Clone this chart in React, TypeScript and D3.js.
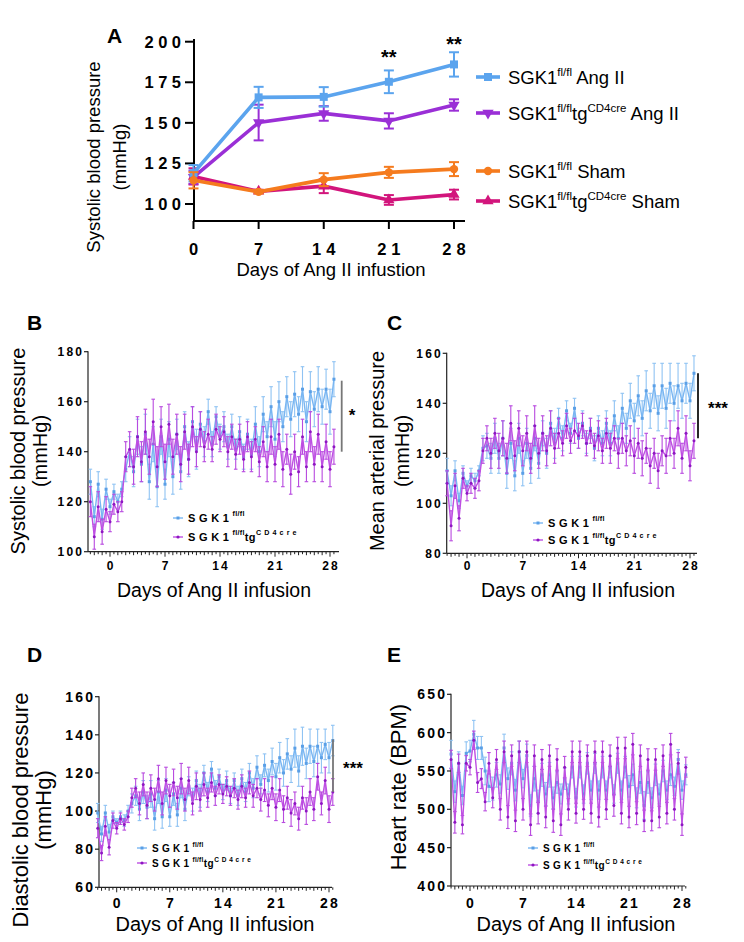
import React from "react";
import * as d3 from "d3";

const FONT = "'Liberation Sans', Arial, Helvetica, sans-serif";

// ---------------- Panel A data ----------------
const daysA = [0, 7, 14, 21, 28];
const aWtAng = [119, 165.7, 166, 175.3, 186];
const aWtAngErr = [5, 6.5, 6, 7, 7.5];
const aTgAng = [116.5, 150.2, 155.8, 151.2, 161];
const aTgAngErr = [4, 11, 4.5, 4.7, 3.5];
const aWtSham = [114.6, 107.5, 115, 119.5, 121.5];
const aWtShamErr = [5, 1, 4, 3.4, 4.3];
const aTgSham = [117, 107.8, 111, 102.5, 105.8];
const aTgShamErr = [5, 1, 4.3, 3, 3];
const aYTicks = [100, 125, 150, 175, 200];
const aStars = [
  { day: 21, text: "**", dy: 64 },
  { day: 28, text: "**", dy: 51 },
];

// ---------------- Panels B-E data (half-day points, day -2.5 .. 28.5) ----------------
const days = d3.range(-2.5, 28.51, 0.5);
const majorDays = [0, 7, 14, 21, 28];

// B: systolic
const bWt = [
  128, 114, 127, 113, 125, 118, 124, 120, 125,
  133, 140, 132, 146, 135, 147, 128, 143, 126, 146, 127, 145,
  130, 147, 132, 150, 137, 152, 141, 151, 144, 156, 143, 154,
  146, 150, 142, 150, 141, 148, 138, 147, 139, 151, 140, 155,
  146, 158, 145, 160, 150, 162, 153, 163, 155, 165, 152, 164,
  157, 165, 158, 165, 156, 169,
];
const bWtErr = [
  5, 4, 5, 4, 4, 3, 3, 3, 3,
  5, 6, 6, 7, 7, 8, 7, 7, 8, 7, 6, 7,
  7, 6, 7, 6, 7, 6, 8, 5, 6, 5, 5, 4,
  5, 6, 5, 5, 4, 6, 5, 6, 6, 7, 6, 7,
  6, 8, 7, 8, 6, 8, 7, 9, 7, 9, 8, 8,
  7, 9, 7, 8, 9, 7,
];
const bTg = [
  120, 106, 118, 108, 117, 112, 119, 116, 120,
  138, 141, 134, 146, 136, 148, 138, 152, 134, 150, 136, 151,
  138, 147, 135, 148, 137, 150, 140, 149, 142, 147, 141, 149,
  145, 148, 140, 146, 139, 145, 137, 146, 138, 145, 136, 144,
  134, 146, 135, 147, 133, 141, 131, 140, 132, 146, 134, 148,
  135, 147, 134, 144, 133, 142,
];
const bTgErr = [
  6, 5, 6, 5, 5, 4, 4, 4, 4,
  6, 7, 7, 8, 8, 9, 7, 9, 8, 8, 7, 8,
  7, 8, 7, 7, 6, 8, 6, 7, 6, 6, 5, 6,
  5, 6, 6, 5, 6, 6, 5, 6, 6, 5, 6, 6,
  6, 7, 7, 6, 7, 6, 8, 7, 6, 7, 6, 8,
  7, 8, 6, 7, 7, 7,
];

// C: mean arterial pressure
const cWt = [
  113, 103, 113, 101, 112, 107, 111, 109, 113,
  122, 123, 118, 126, 118, 126, 112, 124, 111, 126, 112, 124,
  114, 126, 116, 128, 120, 132, 124, 134, 126, 137, 128, 138,
  126, 132, 124, 130, 122, 130, 124, 132, 124, 135, 126, 138,
  130, 141, 133, 143, 134, 145, 137, 147, 136, 147, 138, 148,
  140, 147, 141, 148, 141, 152,
];
const cWtErr = [
  5, 4, 4, 3, 3, 2, 3, 3, 2,
  5, 5, 6, 6, 6, 7, 6, 6, 6, 6, 5, 6,
  6, 5, 6, 5, 6, 5, 6, 4, 5, 4, 4, 4,
  4, 5, 4, 4, 5, 5, 5, 5, 5, 6, 5, 6,
  6, 7, 7, 8, 7, 8, 7, 9, 7, 9, 8, 8,
  7, 9, 7, 8, 7, 7,
];
const cTg = [
  108, 91, 107, 94, 110, 104, 108, 106, 109,
  121, 126, 120, 128, 121, 126, 118, 132, 119, 130, 121, 128,
  118, 131, 120, 128, 121, 130, 122, 128, 124, 131, 125, 129,
  127, 131, 124, 129, 123, 127, 121, 128, 122, 126, 120, 126,
  121, 125, 119, 124, 118, 122, 115, 120, 113, 121, 119, 126,
  120, 130, 118, 128, 115, 125,
];
const cTgErr = [
  5, 6, 5, 5, 4, 3, 4, 4, 4,
  5, 5, 6, 6, 7, 7, 6, 7, 6, 7, 6, 7,
  6, 8, 6, 7, 6, 7, 6, 6, 5, 5, 5, 5,
  5, 5, 5, 5, 5, 6, 5, 6, 6, 5, 6, 6,
  6, 6, 7, 6, 7, 6, 7, 6, 7, 6, 7, 7,
  6, 7, 6, 7, 6, 7,
];

// D: diastolic
const dWt = [
  99, 88, 99, 89, 97, 94, 97, 95, 100,
  104, 108, 101, 110, 102, 109, 96, 110, 97, 111, 97, 109,
  98, 112, 101, 113, 106, 116, 108, 120, 110, 122, 112, 118,
  110, 116, 108, 116, 108, 117, 110, 120, 112, 123, 114, 124,
  116, 126, 118, 128, 120, 130, 122, 133, 121, 134, 125, 134,
  126, 134, 128, 135, 128, 137,
];
const dWtErr = [
  5, 4, 4, 4, 3, 2, 3, 3, 3,
  5, 5, 6, 6, 6, 7, 6, 6, 6, 6, 5, 6,
  6, 5, 6, 5, 6, 5, 6, 4, 5, 4, 4, 4,
  4, 5, 4, 4, 5, 5, 5, 5, 5, 6, 5, 6,
  6, 7, 7, 8, 7, 8, 7, 10, 8, 10, 8, 9,
  8, 9, 8, 8, 8, 8,
];
const dTg = [
  91, 78, 92, 81, 95, 91, 96, 93, 97,
  107, 112, 104, 114, 103, 112, 106, 117, 104, 116, 108, 115,
  107, 117, 106, 116, 104, 113, 106, 114, 107, 115, 108, 114,
  109, 113, 108, 112, 106, 113, 107, 115, 108, 112, 106, 111,
  103, 112, 102, 111, 101, 107, 99, 104, 96, 107, 100, 110,
  101, 118, 104, 116, 101, 110,
];
const dTgErr = [
  5, 4, 5, 4, 4, 3, 3, 3, 3,
  5, 5, 6, 6, 7, 7, 6, 7, 6, 7, 6, 7,
  6, 8, 6, 7, 6, 7, 6, 6, 5, 5, 5, 5,
  5, 5, 5, 5, 5, 6, 5, 6, 6, 5, 6, 6,
  6, 6, 7, 6, 7, 6, 7, 6, 6, 6, 7, 7,
  6, 7, 6, 7, 7, 7,
];

// E: heart rate
const eWt = [
  572, 523, 560, 518, 573, 576, 598, 580, 580,
  550, 530, 527, 545, 533, 580, 540, 560, 525, 575, 540, 570,
  505, 540, 510, 545, 520, 545, 515, 535, 520, 540, 520, 555,
  515, 555, 520, 560, 525, 560, 525, 555, 525, 555, 520, 560,
  525, 555, 530, 545, 515, 535, 505, 535, 515, 545, 520, 550,
  525, 545, 530, 565, 525, 545,
];
const eWtErr = [
  18, 14, 15, 12, 15, 14, 18, 15, 15,
  18, 20, 15, 16, 12, 18, 14, 15, 14, 14, 12, 15,
  14, 16, 15, 15, 15, 16, 14, 14, 13, 14, 13, 14,
  12, 14, 12, 14, 12, 13, 12, 14, 12, 14, 12, 13,
  12, 14, 14, 14, 13, 14, 18, 14, 13, 14, 13, 14,
  12, 14, 12, 13, 12, 13,
];
const eTg = [
  565, 483, 560, 480, 560, 555, 590, 535, 540,
  510, 560, 515, 565, 500, 575, 490, 570, 485, 575, 500, 575,
  480, 570, 495, 565, 490, 570, 485, 565, 480, 555, 500, 575,
  495, 575, 500, 570, 495, 575, 490, 575, 500, 570, 505, 580,
  495, 580, 490, 585, 495, 570, 485, 565, 485, 565, 490, 570,
  495, 585, 500, 560, 480, 555,
];
const eTgErr = [
  12, 14, 12, 12, 10, 10, 12, 13, 13,
  12, 14, 13, 13, 14, 14, 15, 14, 14, 14, 14, 14,
  14, 14, 14, 13, 14, 14, 15, 14, 14, 14, 14, 14,
  13, 14, 13, 14, 13, 14, 13, 14, 13, 14, 14, 14,
  14, 14, 14, 14, 15, 14, 14, 14, 13, 14, 14, 14,
  14, 14, 14, 14, 14, 13,
];

// ---------------- colours ----------------
const A_BLUE = "#5BA4EE";
const A_PURPLE = "#9A2FD6";
const A_ORANGE = "#F57B1E";
const A_MAGENTA = "#D2157C";

const WT_LINE = "#79B6F2";
const WT_ERR = "#8FC3F3";
const WT_PT = "#5A9FE6";
const TG_LINE = "#BE4FE3";
const TG_ERR = "#B84ADF";
const TG_PT = "#8E16C2";

// ---------------- Panel A ----------------
function PanelA() {
  const x = d3.scaleLinear().domain([0, 28]).range([193.5, 454]);
  const y = d3.scaleLinear().domain([100, 200]).range([204, 41.7]);
  const axisY = 221;
  const line = d3
    .line<number>()
    .x((_, i) => x(daysA[i]))
    .y((d) => y(d));

  const series = [
    { v: aTgSham, e: aTgShamErr, c: A_MAGENTA, m: "triUp" },
    { v: aTgAng, e: aTgAngErr, c: A_PURPLE, m: "triDown" },
    { v: aWtAng, e: aWtAngErr, c: A_BLUE, m: "square" },
    { v: aWtSham, e: aWtShamErr, c: A_ORANGE, m: "circle" },
  ];

  const marker = (m: string, cx: number, cy: number, c: string, k: string | number) => {
    if (m === "square")
      return <rect key={k} x={cx - 4} y={cy - 4} width={8} height={8} fill={c} />;
    if (m === "circle") return <circle key={k} cx={cx} cy={cy} r={4.2} fill={c} />;
    const p = d3.symbol().type(d3.symbolTriangle).size(55)()!;
    return (
      <path
        key={k}
        d={p}
        fill={c}
        transform={`translate(${cx},${cy})${m === "triDown" ? " rotate(180)" : ""}`}
      />
    );
  };

  const legend = [
    { y: 77, c: A_BLUE, m: "square", tg: false, g: "Ang II" },
    { y: 113, c: A_PURPLE, m: "triDown", tg: true, g: "Ang II" },
    { y: 171, c: A_ORANGE, m: "circle", tg: false, g: "Sham" },
    { y: 201, c: A_MAGENTA, m: "triUp", tg: true, g: "Sham" },
  ];

  return (
    <g fontFamily={FONT}>
      <text x={107} y={43} fontSize={21} fontWeight="bold">A</text>
      {/* axes */}
      <line x1={194} x2={194} y1={39} y2={axisY} stroke="#000" strokeWidth={2} />
      <line x1={193} x2={465} y1={axisY} y2={axisY} stroke="#000" strokeWidth={2} />
      {aYTicks.map((t) => (
        <g key={t}>
          <line x1={185} x2={194} y1={y(t)} y2={y(t)} stroke="#000" strokeWidth={2} />
          <text
            x={181}
            y={y(t)}
            dy="0.36em"
            dx={4.5}
            textAnchor="end"
            fontSize={16.5}
            fontWeight="bold"
            letterSpacing={4.5}
          >
            {t}
          </text>
        </g>
      ))}
      {daysA.map((t) => (
        <g key={t}>
          <line x1={x(t)} x2={x(t)} y1={axisY} y2={axisY + 8} stroke="#000" strokeWidth={2} />
          <text
            x={x(t)}
            dx={2.5}
            y={255}
            textAnchor="middle"
            fontSize={16.5}
            fontWeight="bold"
            letterSpacing={5}
          >
            {t}
          </text>
        </g>
      ))}
      <text x={331} y={276} textAnchor="middle" fontSize={18.5}>
        Days of Ang II infustion
      </text>
      <text transform="translate(100,157) rotate(-90)" textAnchor="middle" fontSize={18.5}>
        Systolic blood pressure
      </text>
      <text transform="translate(126,157) rotate(-90)" textAnchor="middle" fontSize={18.5}>
        (mmHg)
      </text>

      {/* series */}
      {series.map((s, si) => (
        <g key={si}>
          {s.v.map((v, i) => (
            <g key={i} stroke={s.c} strokeWidth={2}>
              <line x1={x(daysA[i])} x2={x(daysA[i])} y1={y(v - s.e[i])} y2={y(v + s.e[i])} />
              <line x1={x(daysA[i]) - 5} x2={x(daysA[i]) + 5} y1={y(v - s.e[i])} y2={y(v - s.e[i])} />
              <line x1={x(daysA[i]) - 5} x2={x(daysA[i]) + 5} y1={y(v + s.e[i])} y2={y(v + s.e[i])} />
            </g>
          ))}
          <path d={line(s.v)!} fill="none" stroke={s.c} strokeWidth={3.6} />
          {s.v.map((v, i) => marker(s.m, x(daysA[i]), y(v), s.c, i))}
        </g>
      ))}
      {aStars.map((s) => (
        <text key={s.day} x={x(s.day)} y={s.dy} textAnchor="middle" fontSize={20} fontWeight="bold">
          {s.text}
        </text>
      ))}

      {/* legend */}
      {legend.map((l, i) => (
        <g key={i}>
          <line x1={476} x2={500} y1={l.y} y2={l.y} stroke={l.c} strokeWidth={3.6} />
          {marker(l.m, 488, l.y, l.c, "m" + i)}
          <text x={508} y={l.y + 6.5} fontSize={18.5}>
            SGK1
            <tspan dy={-7.5} fontSize={11.5}>fl/fl</tspan>
            {l.tg ? (
              <>
                <tspan dy={7.5}>tg</tspan>
                <tspan dy={-7.5} fontSize={11.5}>CD4cre</tspan>
                <tspan dy={7.5}>{" " + l.g}</tspan>
              </>
            ) : (
              <tspan dy={7.5}>{" " + l.g}</tspan>
            )}
          </text>
        </g>
      ))}
    </g>
  );
}

// ---------------- Panels B-E ----------------
type Cfg = {
  label: string;
  labelX: number;
  labelY: number;
  xr: [number, number];
  axisX: [number, number];
  yDom: [number, number];
  yR: [number, number];
  yTicks: number[];
  wt: number[];
  wtErr: number[];
  tg: number[];
  tgErr: number[];
  yTitle: string[];
  yTitleX: number[];
  yTitleY: number;
  yTitleSize: number;
  xTitleX: number;
  xTitleY: number;
  xTitleSize: number;
  tickSize: number;
  tickLabelY: number;
  legX: number;
  legY: [number, number];
  legSize: number;
  sig?: { x: number; v1: number; v2: number; color: string; text: string; tx: number; ty: number };
};

const cfgs: Cfg[] = [
  {
    label: "B", labelX: 27, labelY: 330,
    xr: [110, 330], axisX: [88, 339],
    yDom: [100, 180], yR: [551.7, 351.7], yTicks: [100, 120, 140, 160, 180],
    wt: bWt, wtErr: bWtErr, tg: bTg, tgErr: bTgErr,
    yTitle: ["Systolic blood pressure", "(mmHg)"], yTitleX: [24.5, 46.5], yTitleY: 451, yTitleSize: 20,
    xTitleX: 214, xTitleY: 597, xTitleSize: 19.5,
    tickSize: 12, tickLabelY: 570,
    legX: 173, legY: [518, 537], legSize: 11,
    sig: { x: 341.7, v1: 168.4, v2: 140, color: "#777", text: "*", tx: 352, ty: 421 },
  },
  {
    label: "C", labelX: 387, labelY: 330,
    xr: [467, 690], axisX: [446.7, 697],
    yDom: [80, 160], yR: [553.3, 353.3], yTicks: [80, 100, 120, 140, 160],
    wt: cWt, wtErr: cWtErr, tg: cTg, tgErr: cTgErr,
    yTitle: ["Mean arterial pressure", "(mmHg)"], yTitleX: [384, 409], yTitleY: 451, yTitleSize: 20,
    xTitleX: 578, xTitleY: 597, xTitleSize: 19.5,
    tickSize: 12, tickLabelY: 570,
    legX: 533, legY: [523, 540], legSize: 11,
    sig: { x: 698, v1: 152, v2: 126, color: "#111", text: "***", tx: 718, ty: 414 },
  },
  {
    label: "D", labelX: 27, labelY: 662,
    xr: [116.7, 329], axisX: [99, 332],
    yDom: [60, 160], yR: [887.3, 696.7], yTicks: [60, 80, 100, 120, 140, 160],
    wt: dWt, wtErr: dWtErr, tg: dTg, tgErr: dTgErr,
    yTitle: ["Diastolic blood pressure", "(mmHg)"], yTitleX: [28, 51], yTitleY: 810, yTitleSize: 22,
    xTitleX: 215, xTitleY: 931, xTitleSize: 20,
    tickSize: 14, tickLabelY: 908,
    legX: 137, legY: [848, 863], legSize: 10,
    sig: { x: 333, v1: 137.5, v2: 110, color: "#777", text: "***", tx: 353, ty: 774 },
  },
  {
    label: "E", labelX: 387, labelY: 662,
    xr: [470, 682], axisX: [451, 685],
    yDom: [400, 650], yR: [886, 694.3], yTicks: [400, 450, 500, 550, 600, 650],
    wt: eWt, wtErr: eWtErr, tg: eTg, tgErr: eTgErr,
    yTitle: ["Heart rate (BPM)"], yTitleX: [406], yTitleY: 787, yTitleSize: 22,
    xTitleX: 576, xTitleY: 931, xTitleSize: 20,
    tickSize: 14, tickLabelY: 908,
    legX: 528, legY: [848, 865], legSize: 10,
  },
];

function TimePanel({ c }: { c: Cfg }) {
  const x = d3.scaleLinear().domain([0, 28]).range(c.xr);
  const y = d3.scaleLinear().domain(c.yDom).range(c.yR);
  const base = c.yR[0];
  const line = d3
    .line<number>()
    .x((_, i) => x(days[i]))
    .y((d) => y(d));
  const ls = 2.2;

  const drawSeries = (vals: number[], errs: number[], lc: string, ec: string, pc: string, sq: boolean) => (
    <g>
      {vals.map((v, i) => {
        const xx = x(days[i]);
        const e = errs[i] ?? 5;
        return (
          <g key={i} stroke={ec} strokeWidth={1.1}>
            <line x1={xx} x2={xx} y1={y(v - e)} y2={y(v + e)} />
            <line x1={xx - 1.8} x2={xx + 1.8} y1={y(v - e)} y2={y(v - e)} />
            <line x1={xx - 1.8} x2={xx + 1.8} y1={y(v + e)} y2={y(v + e)} />
          </g>
        );
      })}
      <path d={line(vals)!} fill="none" stroke={lc} strokeWidth={1.4} />
      {vals.map((v, i) =>
        sq ? (
          <rect key={i} x={x(days[i]) - 1.5} y={y(v) - 1.5} width={3} height={3} fill={pc} />
        ) : (
          <circle key={i} cx={x(days[i])} cy={y(v)} r={1.5} fill={pc} />
        )
      )}
    </g>
  );

  return (
    <g fontFamily={FONT}>
      <text x={c.labelX} y={c.labelY} fontSize={21} fontWeight="bold">{c.label}</text>
      {/* axes */}
      <line x1={c.axisX[0]} x2={c.axisX[0]} y1={c.yR[1] - 0.5} y2={base} stroke="#222" strokeWidth={1.2} />
      <line x1={c.axisX[0]} x2={c.axisX[1]} y1={base} y2={base} stroke="#222" strokeWidth={1.2} />
      {c.yTicks.map((t) => (
        <g key={t}>
          <line x1={c.axisX[0] - 4} x2={c.axisX[0]} y1={y(t)} y2={y(t)} stroke="#222" strokeWidth={1.2} />
          <text
            x={c.axisX[0] - 6}
            dx={ls}
            y={y(t)}
            dy="0.36em"
            textAnchor="end"
            fontSize={c.tickSize}
            fontWeight="bold"
            letterSpacing={ls}
          >
            {t}
          </text>
        </g>
      ))}
      {days.map((d) => {
        const major = majorDays.includes(d);
        const whole = Number.isInteger(d);
        const len = major ? 5 : whole ? 3.5 : 2.5;
        return (
          <line key={d} x1={x(d)} x2={x(d)} y1={base} y2={base + len} stroke="#222" strokeWidth={1} />
        );
      })}
      {majorDays.map((d) => (
        <text
          key={d}
          x={x(d)}
          dx={ls / 2}
          y={c.tickLabelY}
          textAnchor="middle"
          fontSize={c.tickSize}
          fontWeight="bold"
          letterSpacing={ls}
        >
          {d}
        </text>
      ))}
      <text x={c.xTitleX} y={c.xTitleY} textAnchor="middle" fontSize={c.xTitleSize}>
        Days of Ang II infusion
      </text>
      {c.yTitle.map((t, i) => (
        <text
          key={i}
          transform={`translate(${c.yTitleX[i]},${c.yTitleY}) rotate(-90)`}
          textAnchor="middle"
          fontSize={c.yTitleSize}
        >
          {t}
        </text>
      ))}

      {drawSeries(c.wt, c.wtErr, WT_LINE, WT_ERR, WT_PT, true)}
      {drawSeries(c.tg, c.tgErr, TG_LINE, TG_ERR, TG_PT, false)}

      {c.sig && (
        <g>
          <line x1={c.sig.x} x2={c.sig.x} y1={y(c.sig.v1)} y2={y(c.sig.v2)} stroke={c.sig.color} strokeWidth={1.8} />
          <text x={c.sig.tx} y={c.sig.ty} textAnchor="middle" fontSize={17} fontWeight="bold">
            {c.sig.text}
          </text>
        </g>
      )}

      {/* legend */}
      <g>
        <line x1={c.legX} x2={c.legX + 10} y1={c.legY[0]} y2={c.legY[0]} stroke={WT_LINE} strokeWidth={1.4} />
        <rect x={c.legX + 3.5} y={c.legY[0] - 1.5} width={3} height={3} fill={WT_PT} />
        <text
          x={c.legX + 15}
          y={c.legY[0] + c.legSize * 0.36}
          fontSize={c.legSize}
          fontWeight="bold"
          letterSpacing={c.legSize * 0.33}
        >
          SGK1
          <tspan dy={-c.legSize * 0.5} fontSize={c.legSize * 0.65} letterSpacing={0.3}>fl/fl</tspan>
        </text>
        <line x1={c.legX} x2={c.legX + 10} y1={c.legY[1]} y2={c.legY[1]} stroke={TG_LINE} strokeWidth={1.4} />
        <circle cx={c.legX + 5} cy={c.legY[1]} r={1.6} fill={TG_PT} />
        <text
          x={c.legX + 15}
          y={c.legY[1] + c.legSize * 0.36}
          fontSize={c.legSize}
          fontWeight="bold"
          letterSpacing={c.legSize * 0.33}
        >
          SGK1
          <tspan dy={-c.legSize * 0.5} fontSize={c.legSize * 0.65} letterSpacing={0.3}>fl/fl</tspan>
          <tspan dy={c.legSize * 0.5} letterSpacing={0.5}>tg</tspan>
          <tspan dy={-c.legSize * 0.5} fontSize={c.legSize * 0.65} letterSpacing={c.legSize * 0.28}>
            CD4cre
          </tspan>
        </text>
      </g>
    </g>
  );
}

export default function App() {
  return (
    <svg
      width={744}
      height={942}
      viewBox="0 0 744 942"
      style={{ position: "absolute", left: 0, top: 0, background: "#fff" }}
    >
      <rect width={744} height={942} fill="#fff" />
      <PanelA />
      {cfgs.map((c) => (
        <TimePanel key={c.label} c={c} />
      ))}
    </svg>
  );
}
